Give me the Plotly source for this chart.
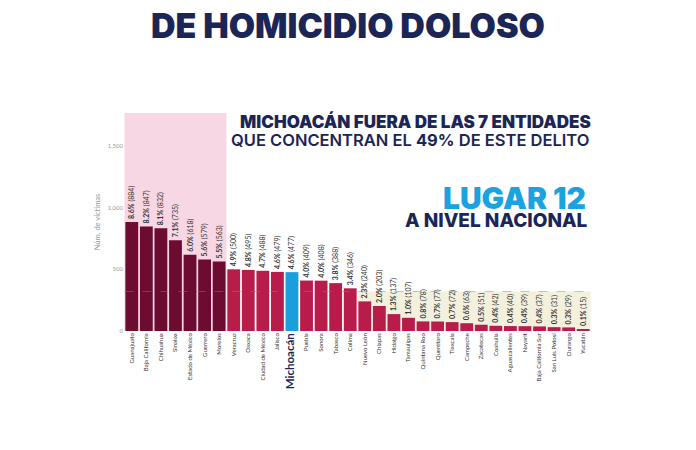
import plotly.graph_objects as go

# datos: víctimas de homicidio doloso por entidad
entidades = ['Guanajuato', 'Baja California', 'Chihuahua', 'Sinaloa', 'Estado de México',
             'Guerrero', 'Morelos', 'Veracruz', 'Oaxaca', 'Ciudad de México', 'Jalisco',
             'Michoacán', 'Puebla', 'Sonora', 'Tabasco', 'Colima', 'Nuevo León', 'Chiapas',
             'Hidalgo', 'Tamaulipas', 'Quintana Roo', 'Querétaro', 'Tlaxcala', 'Campeche',
             'Zacatecas', 'Coahuila', 'Aguascalientes', 'Nayarit', 'Baja California Sur',
             'San Luis Potosí', 'Durango', 'Yucatán']
victimas = [884, 847, 832, 735, 618, 579, 563, 500, 495, 488, 479, 477, 409, 408, 388, 346,
            240, 203, 137, 107, 78, 77, 72, 63, 51, 42, 40, 39, 37, 31, 29, 15]
porcentaje = [8.6, 8.2, 8.1, 7.1, 6.0, 5.6, 5.5, 4.9, 4.8, 4.7, 4.6, 4.6, 4.0, 4.0, 3.8, 3.4,
              2.3, 2.0, 1.3, 1.0, 0.8, 0.7, 0.7, 0.6, 0.5, 0.4, 0.4, 0.4, 0.4, 0.3, 0.3, 0.1]
y_ticks = [0, 500, 1000, 1500]

top7 = 7
linea_corte = 320

colores = []
for i, e in enumerate(entidades):
    if e == 'Michoacán':
        colores.append('#1a9fdc')
    elif i < top7:
        colores.append('#6d0b30')
    else:
        colores.append('#b71c4b')

textos = ['<b>%.1f%%</b> (%d)' % (p, v) for p, v in zip(porcentaje, victimas)]
etiquetas = []
for e in entidades:
    if e == 'Michoacán':
        etiquetas.append("<b><span style='font-size:11.5px;color:#1b2656'>%s</span></b>" % e)
    else:
        etiquetas.append(e)

fig = go.Figure()
fig.add_trace(go.Bar(x=entidades, y=victimas, marker=dict(color=colores, line=dict(width=0)),
                     text=textos, textposition='outside', textangle=-90,
                     textfont=dict(size=7, color='#333333', family='Lato'),
                     constraintext='none', cliponaxis=False, hoverinfo='skip'))

# zona rosa (7 entidades) y zona beige
fig.add_shape(type='rect', xref='x', yref='paper', x0=-0.5, x1=top7 - 0.5, y0=0, y1=1,
              fillcolor='#f7d7e3', line=dict(width=0), layer='below')
fig.add_shape(type='rect', xref='x', yref='y', x0=15.5, x1=len(entidades) - 0.5, y0=0, y1=linea_corte,
              fillcolor='#f3f1de', line=dict(width=0), layer='below')
fig.add_shape(type='line', xref='x', yref='y', x0=-0.5, x1=len(entidades) - 0.5, y0=linea_corte, y1=linea_corte,
              line=dict(color='rgba(140,135,95,0.45)', width=1, dash='dash'), layer='above')

navy = '#1b2656'
fig.add_annotation(text='DE HOMICIDIO DOLOSO', xref='paper', yref='paper', x=0.48, y=1.4,
                   yanchor='middle', showarrow=False,
                   font=dict(size=34, family='Inter', color=navy, weight=900))
fig.add_annotation(text='MICHOACÁN FUERA DE LAS 7 ENTIDADES', xref='paper', yref='paper',
                   x=1.004, y=0.963, xanchor='right', yanchor='middle', showarrow=False,
                   font=dict(size=17, family='Inter', color=navy, weight=900))
fig.add_annotation(text='QUE CONCENTRAN EL <b>49%</b> DE ESTE DELITO', xref='paper', yref='paper',
                   x=1.0, y=0.876, xanchor='right', yanchor='middle', showarrow=False,
                   font=dict(size=16.5, family='Inter', color=navy, weight=600))
fig.add_annotation(text='LUGAR 12', xref='paper', yref='paper', x=0.994, y=0.61,
                   xanchor='right', yanchor='middle', showarrow=False,
                   font=dict(size=30, family='Inter', color='#1aa3e0', weight=900))
fig.add_annotation(text='A NIVEL NACIONAL', xref='paper', yref='paper', x=0.998, y=0.507,
                   xanchor='right', yanchor='middle', showarrow=False,
                   font=dict(size=19, family='Inter', color=navy, weight=800))

fig.update_layout(
    width=696, height=450,
    margin=dict(l=116, r=113, t=105, b=127),
    paper_bgcolor='white', plot_bgcolor='white',
    showlegend=False, bargap=0.12,
    font=dict(family='Lato', color='#444444'),
    xaxis=dict(tickmode='array', tickvals=entidades, ticktext=etiquetas, tickangle=-90,
               tickfont=dict(size=6, color='#333333'), showgrid=False, zeroline=False,
               showline=False, ticks=''),
    yaxis=dict(range=[0, 1767], tickvals=y_ticks, tickformat=',', showgrid=False,
               zeroline=False, showline=False, tickfont=dict(size=6, color='#999999'),
               title=dict(text='Núm. de víctimas', font=dict(size=7.5, color='#999999'), standoff=6)),
)

fig.write_html("out.html")
